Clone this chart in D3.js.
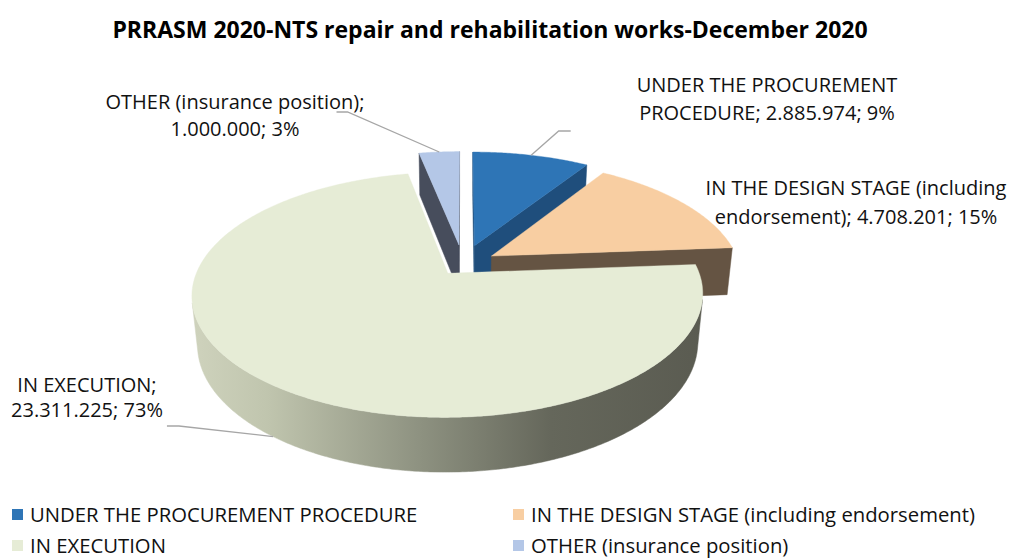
<!DOCTYPE html>
<html>
<head>
<meta charset="utf-8">
<script src="https://cdn.jsdelivr.net/npm/d3@7"></script>
<style>
  html, body { margin: 0; padding: 0; background: #fff; }
  svg { display: block; font-family: "Open Sans", "Noto Sans", sans-serif; }
</style>
</head>
<body>
<svg id="chart" width="1014" height="558"></svg>
<script>
// Works status, December 2020
const categories = [
  "UNDER THE PROCUREMENT PROCEDURE",
  "IN THE DESIGN STAGE (including endorsement)",
  "IN EXECUTION",
  "OTHER (insurance position)"
];
const values = [2885974, 4708201, 23311225, 1000000];
const topColors  = ["#2e75b6", "#f8cea2", "#e6ecd6", "#b4c7e7"];
const sideColors = ["#1f4e7c", "#655443", "url(#execWall)", "#474d5c"];
const explodeBy  = [0.17, 0.135, 0.10, 0.17];
const chartTitle = "PRRASM 2020-NTS repair and rehabilitation works-December 2020";

const W = 1014, H = 558;
const svg = d3.select("#chart");

const locale = d3.formatLocale({ decimal: ",", thousands: ".", grouping: [3], currency: ["", ""] });
const fmtValue = locale.format(",d");
const total = d3.sum(values);

const data = categories.map((c, i) => ({
  name: c, value: values[i], top: topColors[i], side: sideColors[i], explode: explodeBy[i], idx: i
}));

// ---- 3D projection of a unit-radius pie ----
const view = {
  F: 248,        // screen scale at the pie centre
  se: 0.466,     // sine of elevation
  D: 5.12,       // camera distance (radius units)
  T: 0.222,      // pie thickness
  cx: 463, cy: 264
};
view.ce = Math.sqrt(1 - view.se * view.se);
const cam = [0, -view.D * view.ce, view.D * view.se];

function project(p) {
  const [X, Y, Z] = p;
  const dep = 1 + (Y * view.ce - Z * view.se) / view.D;
  return [view.cx + view.F * X / dep, view.cy - view.F * (Z * view.ce + Y * view.se) / dep];
}
function facing(n, p) {
  return n[0] * (cam[0] - p[0]) + n[1] * (cam[1] - p[1]) + n[2] * (cam[2] - p[2]) > 0;
}

const pie = d3.pie().sort(null).value(d => d.value).startAngle(0).endAngle(2 * Math.PI);
const arcs = pie(data);

const defs = svg.append("defs");
const grad = defs.append("linearGradient").attr("id", "execWall")
  .attr("gradientUnits", "userSpaceOnUse").attr("x1", 190).attr("x2", 705).attr("y1", 0).attr("y2", 0);
[[0, "#cfd3bd"], [0.15, "#c0c5ae"], [0.45, "#8d9180"], [0.7, "#65675b"], [1, "#5a5b51"]]
  .forEach(([o, c]) => grad.append("stop").attr("offset", o).attr("stop-color", c));

const line = d3.line();
const pieG = svg.append("g");

arcs.forEach(a => {
  const mid = (a.startAngle + a.endAngle) / 2;
  a.mid = mid;
  a.ox = a.data.explode * Math.sin(mid);
  a.oy = a.data.explode * Math.cos(mid);
  const span = a.endAngle - a.startAngle;
  const k = (2 / 3) * Math.sin(span / 2) / (span / 2);
  a.depthKey = a.oy + k * Math.cos(mid);
});

const rim = (a, t, z) => [a.ox + Math.sin(t), a.oy + Math.cos(t), z];

arcs.slice().sort((p, q) => q.depthKey - p.depthKey).forEach(a => {
  const g = pieG.append("g");
  const T = view.T;
  const apexTop = [a.ox, a.oy, 0], apexBot = [a.ox, a.oy, -T];
  const sideFaces = [];

  // radial cut faces
  const t0 = a.startAngle, t1 = a.endAngle;
  const n0 = [-Math.cos(t0), Math.sin(t0), 0];
  const c0 = [a.ox + 0.5 * Math.sin(t0), a.oy + 0.5 * Math.cos(t0), -T / 2];
  if (facing(n0, c0)) sideFaces.push([apexTop, rim(a, t0, 0), rim(a, t0, -T), apexBot]);
  const n1 = [Math.cos(t1), -Math.sin(t1), 0];
  const c1 = [a.ox + 0.5 * Math.sin(t1), a.oy + 0.5 * Math.cos(t1), -T / 2];
  if (facing(n1, c1)) sideFaces.push([apexTop, apexBot, rim(a, t1, -T), rim(a, t1, 0)]);

  // outer wall: group the camera-facing stretch into continuous runs
  const steps = Math.max(8, Math.ceil((t1 - t0) / 0.01));
  let run = null;
  const runs = [];
  for (let i = 0; i < steps; i++) {
    const ta = t0 + (t1 - t0) * i / steps, tb = t0 + (t1 - t0) * (i + 1) / steps;
    const tm = (ta + tb) / 2;
    if (facing([Math.sin(tm), Math.cos(tm), 0], rim(a, tm, -T / 2))) {
      if (!run) { run = [ta]; runs.push(run); }
      run.push(tb);
    } else run = null;
  }
  runs.forEach(r => {
    const topEdge = r.map(t => rim(a, t, 0));
    const botEdge = r.slice().reverse().map(t => rim(a, t, -T));
    sideFaces.push(topEdge.concat(botEdge));
  });

  sideFaces.forEach(f => {
    g.append("path").attr("d", line(f.map(project)) + "Z")
      .attr("fill", a.data.side).attr("stroke", a.data.side).attr("stroke-width", 0.5)
      .attr("stroke-linejoin", "round");
  });

  // top face
  const topPts = [apexTop];
  const tsteps = Math.max(16, Math.ceil((t1 - t0) / 0.01));
  for (let i = 0; i <= tsteps; i++) topPts.push(rim(a, t0 + (t1 - t0) * i / tsteps, 0));
  g.append("path").attr("d", line(topPts.map(project)) + "Z")
    .attr("fill", a.data.top).attr("stroke", a.data.top).attr("stroke-width", 0.4);
});

// ---- title ----
svg.append("text").attr("x", 490).attr("y", 38).attr("text-anchor", "middle")
  .attr("font-weight", "bold").attr("font-size", 23).attr("fill", "#000").text(chartTitle);

// ---- data labels ----
const labelLayout = [
  { x: 767, y: 92,  wrap: 340, gap: 28 },
  { x: 856, y: 195, wrap: 340, gap: 29 },
  { x: 87,  y: 392, wrap: 180, gap: 25 },
  { x: 235, y: 109, wrap: 310, gap: 27 }
];
const labelSize = 20;
const labG = svg.append("g").attr("font-size", labelSize).attr("fill", "#111");

function wrapWords(text, width) {
  const probe = labG.append("text").attr("visibility", "hidden");
  const words = text.split(" ");
  const lines = [];
  let cur = "";
  words.forEach(w => {
    const trial = cur ? cur + " " + w : w;
    probe.text(trial);
    if (cur && probe.node().getComputedTextLength() > width) { lines.push(cur); cur = w; }
    else cur = trial;
  });
  if (cur) lines.push(cur);
  probe.remove();
  return lines;
}

arcs.forEach(a => {
  const L = labelLayout[a.data.idx];
  const pct = Math.round(a.data.value / total * 100) + "%";
  const txt = a.data.name + "; " + fmtValue(a.data.value) + "; " + pct;
  const lines = wrapWords(txt, L.wrap);
  const t = labG.append("text").attr("text-anchor", "middle");
  lines.forEach((s, i) => t.append("tspan").attr("x", L.x).attr("y", L.y + i * L.gap).text(s));
  const lastBase = L.y + (lines.length - 1) * L.gap;

  // leader lines from label to slice (the design-stage label sits beside its slice)
  if (a.data.idx === 1) return;
  const bb = t.node().getBBox();
  let start, knee, end;
  if (a.data.idx === 0) {         // label above-right of its slice
    end = project(rim(a, a.mid, 0));
    start = [bb.x - 66, lastBase + 11];
    knee = [start[0] - 12, start[1]];
  } else if (a.data.idx === 3) {  // label upper-left
    end = project(rim(a, a.mid, 0));
    start = [bb.x + bb.width - 28, L.y + 3];
    knee = [start[0] + 11, start[1]];
  } else {                        // label lower-left, line runs to the wall
    end = project(rim(a, a.mid, -view.T));
    start = [bb.x + bb.width + 4, lastBase + 9];
    knee = [start[0] + 12, start[1]];
  }
  svg.append("path").attr("d", line([start, knee, end]))
    .attr("fill", "none").attr("stroke", "#a6a6a6").attr("stroke-width", 1.3);
});

// ---- legend ----
const legendPos = [[12, 515], [513, 515], [12, 546], [513, 546]];
const legG = svg.append("g").attr("font-size", 20.3).attr("fill", "#111");
data.forEach((d, i) => {
  const [x, y] = legendPos[i];
  legG.append("rect").attr("x", x).attr("y", y - 6).attr("width", 11).attr("height", 11).attr("fill", d.top);
  legG.append("text").attr("x", x + 18).attr("y", y + 7).text(d.name);
});
</script>
</body>
</html>
